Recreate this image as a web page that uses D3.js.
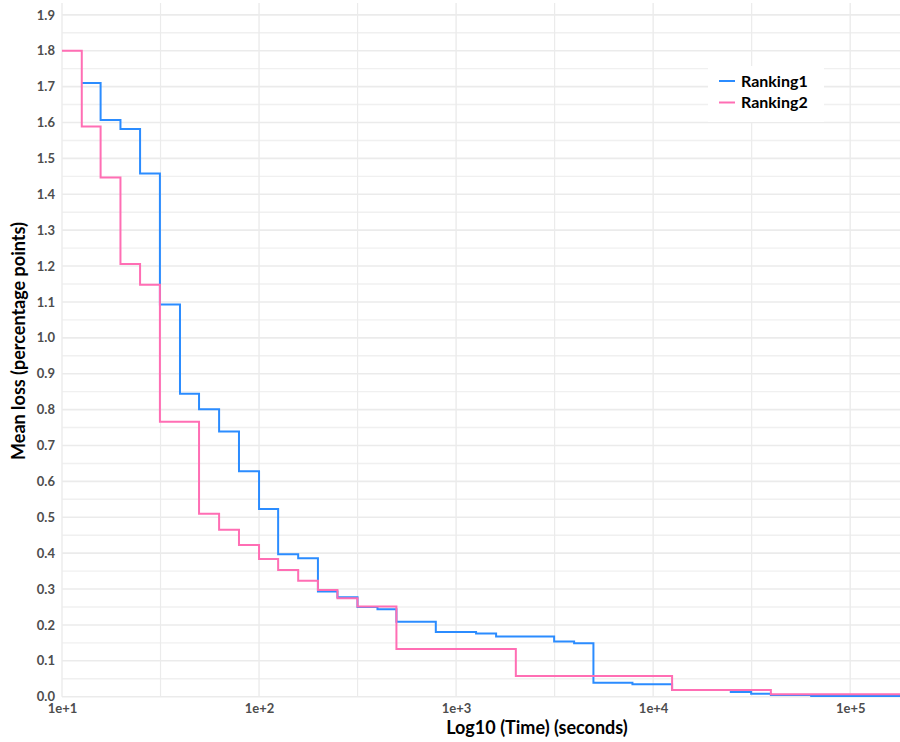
<!DOCTYPE html>
<html>
<head>
<meta charset="utf-8">
<script src="https://cdn.jsdelivr.net/npm/d3@7"></script>
<style>
  html, body { margin: 0; padding: 0; background: #fff; }
  svg { display: block; }
  text { font-family: Lato, "Open Sans", sans-serif; }
</style>
</head>
<body>
<svg id="chart" width="900" height="742"></svg>
<script>
// ---- data ----
const seriesNames = ["Ranking1", "Ranking2"];
const seriesColors = ["#2b8cff", "#ff6eb4"];

const ranking1Time = [12.6, 15.7, 19.8, 24.9, 31.4, 39.7, 49.6, 62.7, 79.1, 100, 125, 158, 199, 250, 316, 399, 498, 789, 1263, 1596, 3145, 3972, 4977, 7852, 12480, 24780, 31440, 39580, 63400];
const ranking1Loss = [1.71, 1.607, 1.582, 1.458, 1.093, 0.844, 0.801, 0.739, 0.628, 0.523, 0.397, 0.386, 0.293, 0.277, 0.250, 0.244, 0.209, 0.180, 0.176, 0.168, 0.154, 0.149, 0.039, 0.035, 0.019, 0.013, 0.008, 0.005, 0.002];

const ranking2Time = [10, 12.6, 15.7, 19.8, 24.9, 31.4, 49.6, 62.7, 79.1, 100, 125, 158, 199, 250, 316, 498, 2010, 12480, 39580];
const ranking2Loss = [1.8, 1.589, 1.447, 1.206, 1.148, 0.766, 0.510, 0.465, 0.423, 0.384, 0.353, 0.323, 0.297, 0.274, 0.251, 0.133, 0.058, 0.019, 0.007];

const timeEnd = 179000;
const xTickValues = [10, 100, 1000, 10000, 100000];
const xTickLabels = ["1e+1", "1e+2", "1e+3", "1e+4", "1e+5"];
const yTickValues = [0, 0.1, 0.2, 0.3, 0.4, 0.5, 0.6, 0.7, 0.8, 0.9, 1.0, 1.1, 1.2, 1.3, 1.4, 1.5, 1.6, 1.7, 1.8, 1.9];
const xTitle = "Log10 (Time) (seconds)";
const yTitle = "Mean loss (percentage points)";

// ---- layout ----
const svg = d3.select("#chart");
const pLeft = 62, pRight = 900, pTop = 3, pBottom = 696.7;

const x = d3.scaleLog().domain([10, timeEnd]).range([pLeft, pRight]);
const y = d3.scaleLinear().domain([0, 1.933]).range([pBottom, pTop]);

// gridlines
const grid = svg.append("g");
const xMinor = [];
for (let e = 1; e <= 5; e++) xMinor.push(Math.pow(10, e + 0.5));
const yMinor = d3.range(0.05, 1.95, 0.1);

grid.selectAll(".ymin").data(yMinor).enter().append("line")
  .attr("x1", pLeft).attr("x2", pRight)
  .attr("y1", d => y(d)).attr("y2", d => y(d))
  .attr("stroke", "#f0f0f0").attr("stroke-width", 1.4);
grid.selectAll(".xmin").data(xMinor.filter(d => d < timeEnd)).enter().append("line")
  .attr("y1", pTop).attr("y2", pBottom)
  .attr("x1", d => x(d)).attr("x2", d => x(d))
  .attr("stroke", "#ebebeb").attr("stroke-width", 1.2);
grid.selectAll(".ymaj").data(yTickValues).enter().append("line")
  .attr("x1", pLeft).attr("x2", pRight)
  .attr("y1", d => y(d)).attr("y2", d => y(d))
  .attr("stroke", "#ebebeb").attr("stroke-width", 1.6);
grid.selectAll(".xmaj").data(xTickValues).enter().append("line")
  .attr("y1", pTop).attr("y2", pBottom)
  .attr("x1", d => x(d)).attr("x2", d => x(d))
  .attr("stroke", "#ebebeb").attr("stroke-width", 1.4);

// axes (labels only)
const xAxis = d3.axisBottom(x).tickValues(xTickValues)
  .tickFormat((d, i) => xTickLabels[i]).tickSize(0).tickPadding(7);
const gx = svg.append("g").attr("transform", `translate(0,${pBottom})`).call(xAxis);
gx.select(".domain").remove();
gx.selectAll("text").attr("fill", "#4d4d4d").attr("font-size", 13).attr("font-weight", 700)
  .style("font-family", "Lato, sans-serif");

const yAxis = d3.axisLeft(y).tickValues(yTickValues)
  .tickFormat(d3.format(".1f")).tickSize(0).tickPadding(7);
const gy = svg.append("g").attr("transform", `translate(${pLeft},0)`).call(yAxis);
gy.select(".domain").remove();
gy.selectAll("text").attr("fill", "#4d4d4d").attr("font-size", 13).attr("font-weight", 700)
  .style("font-family", "Lato, sans-serif");

// lines
const series = [
  { name: seriesNames[0], t: ranking1Time, v: ranking1Loss, color: seriesColors[0] },
  { name: seriesNames[1], t: ranking2Time, v: ranking2Loss, color: seriesColors[1] }
];
const line = d3.line().x(d => x(d[0])).y(d => y(d[1])).curve(d3.curveStepAfter);
series.forEach(s => {
  const pts = s.t.map((t, i) => [t, s.v[i]]);
  pts.push([timeEnd, s.v[s.v.length - 1]]);
  svg.append("path").datum(pts)
    .attr("d", line).attr("fill", "none")
    .attr("stroke", s.color).attr("stroke-width", 2);
});

// titles
svg.append("text").attr("x", 537).attr("y", 734)
  .attr("text-anchor", "middle").attr("font-size", 18).attr("font-weight", 700)
  .attr("fill", "#000").text(xTitle);
svg.append("text").attr("transform", "translate(25,341) rotate(-90)")
  .attr("text-anchor", "middle").attr("font-size", 18).attr("font-weight", 700)
  .attr("fill", "#000").text(yTitle);

// legend
const lg = svg.append("g");
lg.append("rect").attr("x", 708).attr("y", 66).attr("width", 116).attr("height", 56).attr("fill", "#fff");
series.forEach((s, i) => {
  const cy = 81 + i * 21.5;
  lg.append("line").attr("x1", 719).attr("x2", 735).attr("y1", cy).attr("y2", cy)
    .attr("stroke", s.color).attr("stroke-width", 2);
  lg.append("text").attr("x", 741).attr("y", cy).attr("dy", "0.35em")
    .attr("font-size", 16).attr("font-weight", 700).attr("fill", "#000").text(s.name);
});
</script>
</body>
</html>
